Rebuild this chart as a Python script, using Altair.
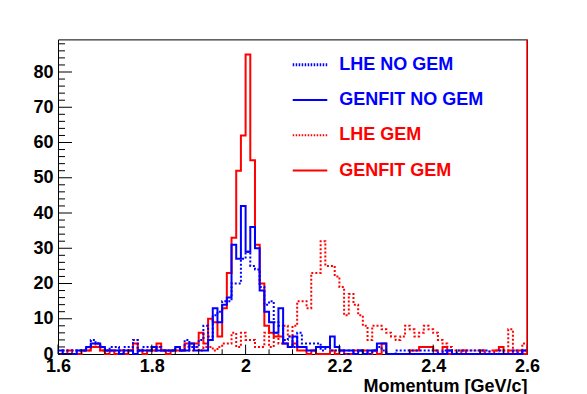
import altair as alt
import pandas as pd

# ---------------- data ----------------
x_min, x_max, bin_width = 1.6, 2.6, 0.01
y_max = 89.25

series_names = ["LHE NO GEM", "GENFIT NO GEM", "LHE GEM", "GENFIT GEM"]

lhe_no_gem = [
    0, 1, 0, 1, 1, 1, 2, 4, 3, 2,
    1, 2, 2, 1, 2, 2, 4, 1, 2, 2,
    1, 2, 1, 1, 1, 2, 1, 4, 2, 2,
    4, 8, 5, 11, 12, 15, 15, 20, 20, 27,
    29, 25, 24, 19, 14, 15, 9, 8, 4, 5,
    2, 6, 3, 3, 3, 3, 1, 2, 1, 1,
    1, 0, 1, 0, 1, 0, 0, 1, 2, 1,
    0, 0, 1, 1, 1, 1, 1, 1, 1, 1,
    1, 0, 1, 1, 0, 1, 1, 1, 1, 1,
    1, 1, 0, 0, 1, 0, 0, 1, 0, 1,
]
genfit_no_gem = [
    1, 0, 0, 0, 1, 1, 2, 3, 3, 2,
    1, 1, 1, 0, 1, 1, 0, 1, 1, 1,
    2, 1, 1, 1, 1, 2, 1, 1, 3, 1,
    1, 1, 4, 13, 9, 14, 16, 31, 27, 42,
    29, 36, 30, 18, 12, 9, 6, 13, 3, 2,
    5, 2, 2, 1, 1, 2, 2, 2, 5, 2,
    1, 1, 1, 0, 1, 0, 1, 1, 3, 3,
    0, 0, 0, 0, 0, 0, 0, 0, 0, 0,
    0, 0, 0, 1, 0, 0, 0, 0, 0, 0,
    0, 0, 0, 0, 0, 0, 0, 0, 0, 1,
]
lhe_gem = [
    0, 1, 0, 1, 0, 1, 1, 2, 3, 1,
    1, 1, 1, 0, 1, 1, 4, 1, 1, 1,
    1, 2, 1, 1, 1, 1, 1, 2, 1, 2,
    1, 2, 2, 1, 2, 3, 3, 6, 2, 6,
    4, 4, 2, 2, 6, 2, 6, 3, 8, 5,
    8, 15, 15, 13, 23, 23, 32, 25, 25, 22,
    19, 11, 17, 14, 11, 8, 4, 8, 8, 7,
    6, 5, 4, 5, 8, 7, 5, 6, 8, 7,
    6, 4, 3, 2, 1, 1, 1, 1, 1, 1,
    1, 0, 1, 1, 1, 1, 7, 1, 0, 3,
]
genfit_gem = [
    0, 0, 1, 0, 0, 1, 1, 2, 2, 1,
    0, 1, 0, 1, 0, 1, 3, 1, 0, 1,
    1, 3, 1, 0, 1, 1, 1, 3, 3, 3,
    6, 3, 10, 9, 5, 13, 23, 33, 52, 62,
    85, 55, 31, 20, 8, 6, 5, 5, 3, 2,
    3, 1, 1, 0, 1, 0, 0, 0, 1, 0,
    1, 0, 0, 1, 1, 1, 0, 1, 0, 3,
    0, 0, 0, 0, 0, 1, 1, 2, 2, 2,
    1, 0, 2, 0, 0, 0, 1, 0, 0, 0,
    1, 0, 0, 1, 2, 0, 1, 0, 1, 0,
]
series_values = [lhe_no_gem, genfit_no_gem, lhe_gem, genfit_gem]

x_major = [1.6, 1.8, 2.0, 2.2, 2.4, 2.6]
x_minor = [round(1.6 + 0.05 * k, 2) for k in range(21)]
y_major = [0, 10, 20, 30, 40, 50, 60, 70, 80]
y_minor = list(range(0, 89, 2))

# ---------------- styles ----------------
BLUE, RED = "#0000ff", "#ff0000"
styles = {
    "LHE NO GEM":    dict(color=BLUE, dash=[2, 2], width=2),
    "GENFIT NO GEM": dict(color=BLUE, dash=None, width=2),
    "LHE GEM":       dict(color=RED, dash=[2, 2], width=2),
    "GENFIT GEM":    dict(color=RED, dash=None, width=2),
}
draw_order = ["GENFIT GEM", "LHE GEM", "LHE NO GEM", "GENFIT NO GEM"]

W, H = 469, 314.6
FONT = "Liberation Sans"

rows = []
for name, vals in zip(series_names, series_values):
    for i, v in enumerate(vals):
        rows.append({"series": name, "x": round(x_min + i * bin_width, 4), "count": v})
    rows.append({"series": name, "x": x_max, "count": vals[-1]})
hist_df = pd.DataFrame(rows)

xscale = alt.Scale(domain=[x_min, x_max], nice=False, zero=False)
yscale = alt.Scale(domain=[0, y_max], nice=False, zero=False)
xaxis = alt.Axis(values=x_major, format=".1~f", ticks=False, grid=False, domain=False,
                 labelFont=FONT, labelFontWeight="bold", labelFontSize=18, labelPadding=3,
                 labelFlush=False, labelOverlap=False, labelColor="black",
                 title="Momentum [GeV/c]", titleAnchor="end", titleFont=FONT,
                 titleFontWeight="bold", titleFontSize=18, titlePadding=2, titleColor="black")
yaxis = alt.Axis(values=y_major, ticks=False, grid=False, domain=False,
                 labelFont=FONT, labelFontWeight="bold", labelFontSize=18, labelPadding=5,
                 labelOverlap=False, labelColor="black", title=None)

def X(field):
    return alt.X(field, scale=xscale, axis=xaxis)

def Y(field):
    return alt.Y(field, scale=yscale, axis=yaxis)

layers = []
for name in draw_order:
    st = styles[name]
    kw = dict(color=st["color"], strokeWidth=st["width"], interpolate="step-after")
    if st["dash"]:
        kw["strokeDash"] = st["dash"]
    layers.append(
        alt.Chart(hist_df).transform_filter(alt.datum.series == name)
        .mark_line(**kw).encode(x=X("x:Q"), y=Y("count:Q"))
    )

# inward ticks (ROOT style)
xmaj_df = pd.DataFrame({"v": x_major})
xmin_df = pd.DataFrame({"v": [v for v in x_minor if v not in x_major]})
ymaj_df = pd.DataFrame({"v": y_major})
ymin_df = pd.DataFrame({"v": [v for v in y_minor if v not in y_major]})
layers.append(alt.Chart(xmaj_df).mark_rule(color="black", strokeWidth=1).encode(
    x=X("v:Q"), y=alt.value(H), y2=alt.value(H - 9.4)))
layers.append(alt.Chart(xmin_df).mark_rule(color="black", strokeWidth=1).encode(
    x=X("v:Q"), y=alt.value(H), y2=alt.value(H - 4.7)))
layers.append(alt.Chart(ymaj_df).mark_rule(color="black", strokeWidth=1).encode(
    y=Y("v:Q"), x=alt.value(0), x2=alt.value(14)))
layers.append(alt.Chart(ymin_df).mark_rule(color="black", strokeWidth=1).encode(
    y=Y("v:Q"), x=alt.value(0), x2=alt.value(7)))

# red right frame edge
layers.append(alt.Chart(pd.DataFrame({"edge": [x_max]})).mark_rule(color=RED, strokeWidth=1.5).encode(
    x=alt.value(W), y=alt.value(0), y2=alt.value(H)))

# legend
leg_x0, leg_x1, leg_tx = 234.7, 269.3, 281.3
leg_y0, leg_dy = 25.3, 35.3
for k, name in enumerate(series_names):
    st = styles[name]
    one = pd.DataFrame({"name": [name]})
    kw = dict(color=st["color"], strokeWidth=3 if name == "LHE NO GEM" else 2)
    if st["dash"]:
        kw["strokeDash"] = [1.5, 1.5]
    yk = leg_y0 + leg_dy * k
    layers.append(alt.Chart(one).mark_rule(**kw).encode(
        x=alt.value(leg_x0), x2=alt.value(leg_x1), y=alt.value(yk)))
    layers.append(alt.Chart(one).mark_text(
        color=st["color"], font=FONT, fontWeight="bold", fontSize=18,
        align="left", baseline="middle").encode(
        x=alt.value(leg_tx), y=alt.value(yk), text="name:N"))

chart = alt.layer(*layers).properties(
    width=W, height=H,
    padding={"left": 50, "top": 31.4, "right": 52, "bottom": 40},
    autosize=alt.AutoSizeParams(type="none"),
    background="white",
).configure_view(stroke="black", strokeWidth=1)

chart.save("out.html", embed_options={"renderer": "svg", "actions": False})
